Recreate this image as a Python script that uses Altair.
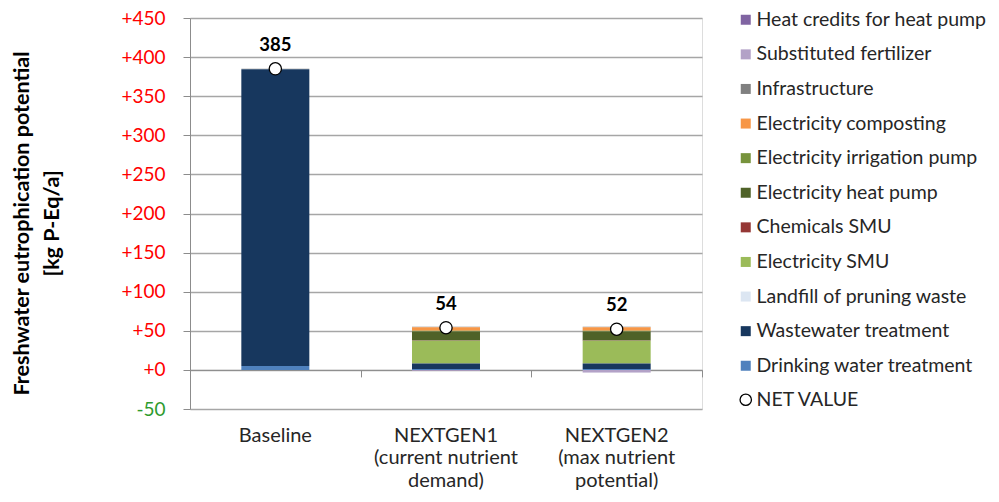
import altair as alt
import pandas as pd

categories = ["Baseline", "NEXTGEN1", "NEXTGEN2"]
category_lines = [
    "Baseline",
    "NEXTGEN1|(current nutrient|demand)",
    "NEXTGEN2|(max nutrient|potential)",
]

components = [
    "Heat credits for heat pump",
    "Substituted fertilizer",
    "Infrastructure",
    "Electricity composting",
    "Electricity irrigation pump",
    "Electricity heat pump",
    "Chemicals SMU",
    "Electricity SMU",
    "Landfill of pruning waste",
    "Wastewater treatment",
    "Drinking water treatment",
]
colors = [
    "#8064A2", "#B3A2C7", "#808080", "#F79646", "#77933C", "#4F6228",
    "#953735", "#9BBB59", "#DCE6F2", "#17375E", "#4F81BD",
]

# values per component: [Baseline, NEXTGEN1, NEXTGEN2]
values = {
    "Heat credits for heat pump": [0.0, -0.4, -0.5],
    "Substituted fertilizer": [0.0, -1.0, -2.9],
    "Infrastructure": [0.3, 0.5, 0.5],
    "Electricity composting": [0.0, 4.5, 4.5],
    "Electricity irrigation pump": [0.0, 1.0, 1.0],
    "Electricity heat pump": [0.0, 11.5, 11.5],
    "Chemicals SMU": [0.0, 0.3, 0.3],
    "Electricity SMU": [0.0, 29.0, 29.0],
    "Landfill of pruning waste": [0.2, 0.1, 0.1],
    "Wastewater treatment": [379.5, 7.2, 7.2],
    "Drinking water treatment": [5.0, 1.0, 1.0],
}
net_values = [385, 54, 52]

rows = []
for comp in components:
    for cat, v in zip(categories, values[comp]):
        rows.append({
            "cat": cat,
            "component": comp,
            "value": v,
            "order": len(components) - components.index(comp),
        })
df = pd.DataFrame(rows)
net_df = pd.DataFrame({"cat": categories, "net": net_values, "series": ["NET VALUE"] * 3})

FONT = "Lato"
x_scale = alt.Scale(domain=categories, paddingInner=0, paddingOuter=0)
y_scale = alt.Scale(domain=[-50, 450], nice=False, zero=False)

label_map = "{" + ",".join(f"'{c}':'{l}'" for c, l in zip(categories, category_lines)) + "}"

y_axis = alt.Axis(
    values=list(range(-50, 451, 50)),
    labelExpr="datum.value >= 0 ? '+' + datum.value : '' + datum.value",
    labelColor={"condition": {"test": "datum.value < 0", "value": "#2E9B2E"}, "value": "#FF0000"},
    labelFontSize=19,
    labelFont=FONT,
    labelPadding=18,
    tickSize=7,
    tickColor="#8C8C8C",
    domainColor="#8C8C8C",
    gridColor="#A6A6A6",
    gridWidth=1.5,
    title=["Freshwater eutrophication potential", "[kg P-Eq/a]"],
    titleFontSize=21.5,
    titleFont=FONT,
    titleFontWeight="bold",
    titleColor="#000000",
    titleLineHeight=30,
    titleX=-168,
    titleY=205,
    titleAngle=-90,
    titleBaseline="middle",
)

bars = alt.Chart(df).mark_bar(size=68).encode(
    x=alt.X("cat:N", scale=x_scale, sort=categories, axis=alt.Axis(
        title=None, labelExpr=f"split({label_map}[datum.value], '|')",
        labelAngle=0, labelFontSize=20, labelFont=FONT, labelColor="#262626",
        labelPadding=16, labelLineHeight=22.5, domain=False, ticks=False, grid=False,
        orient="bottom")),
    y=alt.Y("value:Q", scale=y_scale, stack="zero", axis=y_axis),
    color=alt.Color("component:N", scale=alt.Scale(domain=components, range=colors),
                    legend=alt.Legend(
                        title=None, orient="none", legendX=546, legendY=-8,
                        symbolType="square", symbolSize=100, symbolStrokeWidth=0,
                        labelFontSize=19.5, labelFont=FONT, labelColor="#262626",
                        labelLimit=400, rowPadding=13.6, labelOffset=1)),
    order=alt.Order("order:Q", sort="ascending"),
)

points = alt.Chart(net_df).mark_point(
    filled=True, stroke="black", strokeWidth=1.3, size=150, opacity=1
).encode(
    x=alt.X("cat:N", scale=x_scale, sort=categories, axis=alt.Axis(
        title=None, labels=False, ticks=True, tickBand="extent", tickSize=7,
        tickColor="#8C8C8C", domain=True, domainColor="#8C8C8C", grid=False,
        orient="bottom", offset=-39.1)),
    y=alt.Y("net:Q", scale=y_scale, axis=y_axis),
    fill=alt.Fill("series:N", scale=alt.Scale(domain=["NET VALUE"], range=["#FFFFFF"]),
                  legend=alt.Legend(
                      title=None, orient="none", legendX=546, legendY=372,
                      symbolType="circle", symbolSize=130,
                      symbolStrokeColor="black", symbolStrokeWidth=1.3,
                      labelFontSize=19.5, labelFont=FONT, labelColor="#262626",
                      labelLimit=400, labelOffset=1)),
)

texts = alt.Chart(net_df).mark_text(
    dy=-24, fontSize=18.5, fontWeight="bold", font=FONT, color="#000000"
).encode(
    x=alt.X("cat:N", scale=x_scale, sort=categories, axis=None),
    y=alt.Y("net:Q", scale=y_scale, axis=y_axis),
    text=alt.Text("net:Q", format=".0f"),
)

chart = alt.layer(bars, points, texts).resolve_axis(x="independent").properties(
    width=512,
    height=391,
    autosize=alt.AutoSizeParams(type="none"),
    padding={"left": 182, "top": 10, "right": 289, "bottom": 85},
).configure_view(stroke=None).configure(background="white")

chart.save("out.html", embed_options={"renderer": "svg", "actions": False})
